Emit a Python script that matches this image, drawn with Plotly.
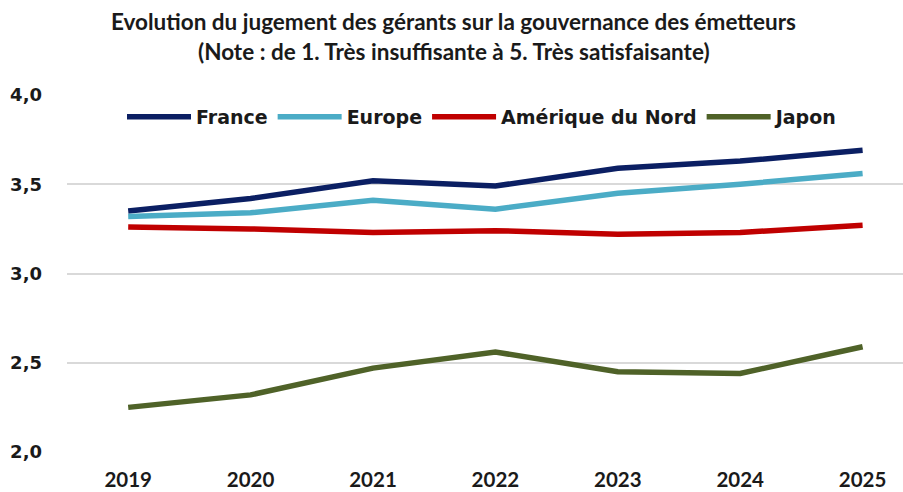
import plotly.graph_objects as go

years = ["2019", "2020", "2021", "2022", "2023", "2024", "2025"]
france = [3.35, 3.42, 3.52, 3.49, 3.59, 3.63, 3.69]
europe = [3.32, 3.34, 3.41, 3.36, 3.45, 3.50, 3.56]
amerique_nord = [3.26, 3.25, 3.23, 3.24, 3.22, 3.23, 3.27]
japon = [2.25, 2.32, 2.47, 2.56, 2.45, 2.44, 2.59]

series_names = ["France", "Europe", "Amérique du Nord", "Japon"]
series_values = [france, europe, amerique_nord, japon]
series_colors = ["#0B1F63", "#4BACC6", "#C00000", "#4F6228"]

title_line1 = "Evolution du jugement des gérants sur la gouvernance des émetteurs"
title_line2 = "(Note : de 1. Très insuffisante à 5. Très satisfaisante)"

fig = go.Figure()
for name, vals, col in zip(series_names, series_values, series_colors):
    fig.add_trace(go.Scatter(
        x=years, y=vals, name=name, mode="lines",
        line=dict(color=col, width=5.5),
    ))

W, H = 903, 492
ML, MR, MT, MB = 67, 0, 95, 40
PW, PH = W - ML - MR, H - MT - MB


def px_x(x):
    return (x - ML) / PW


def px_y(y):
    return (H - MB - y) / PH


fig.update_layout(
    width=W, height=H,
    margin=dict(l=ML, r=MR, t=MT, b=MB),
    paper_bgcolor="white", plot_bgcolor="white",
    separators=",.",
    showlegend=True,
    legend=dict(
        orientation="h",
        x=px_x(122), y=px_y(117), xanchor="left", yanchor="middle",
        font=dict(family="DejaVu Sans", size=19, color="#1a1a1a", weight="bold"),
        bgcolor="rgba(0,0,0,0)", itemwidth=64,
    ),
    annotations=[
        dict(text=title_line1, xref="paper", yref="paper",
             x=px_x(W / 2 + 2), y=px_y(21), xanchor="center", yanchor="middle",
             showarrow=False,
             font=dict(family="Lato", size=22.5, color="#1a1a1a", weight="bold")),
        dict(text=title_line2, xref="paper", yref="paper",
             x=px_x(W / 2 + 2), y=px_y(51), xanchor="center", yanchor="middle",
             showarrow=False,
             font=dict(family="Lato", size=22.5, color="#1a1a1a", weight="bold")),
    ],
)
fig.update_xaxes(
    type="category", range=[-0.5, 6.33],
    showgrid=False, showline=False, zeroline=False,
    ticks="", ticklabelstandoff=13,
    tickfont=dict(family="Lato", size=20.5, color="#1a1a1a", weight="bold"),
)
fig.update_yaxes(
    range=[2, 4], dtick=0.5, tick0=2, tickformat=".1f",
    showgrid=True, gridcolor="#D9D9D9", gridwidth=2,
    zeroline=False, showline=False, ticks="",
    ticklabelstandoff=24,
    tickfont=dict(family="DejaVu Sans", size=18, color="#1a1a1a", weight="bold"),
)

fig.write_html("out.html")
